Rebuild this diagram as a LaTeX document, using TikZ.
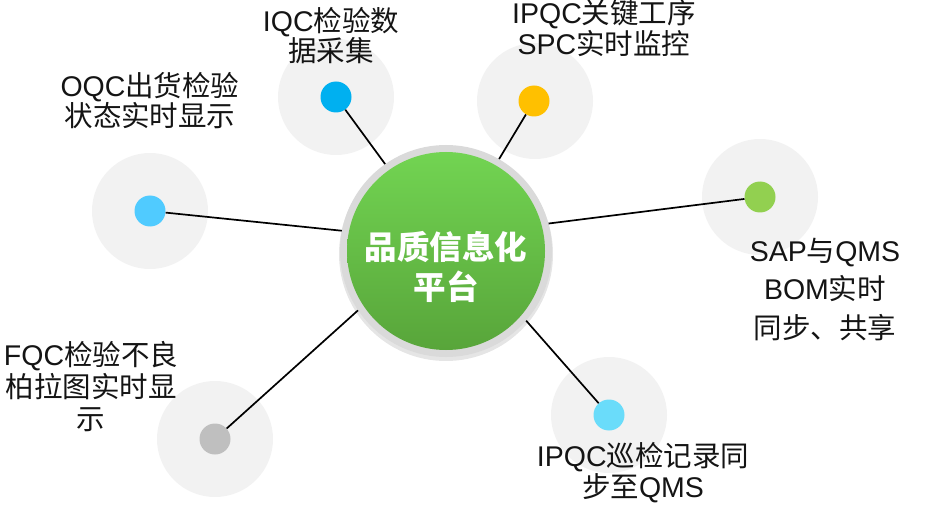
\documentclass[tikz,border=0pt]{standalone}
\usepackage{fontspec}
\setmainfont{Liberation Sans}
\newfontfamily\cjk{Noto Sans CJK SC}
\definecolor{diskgray}{HTML}{F2F2F2}
\definecolor{ringgray}{HTML}{DADADA}
\definecolor{gtop}{HTML}{72D452}
\definecolor{gbot}{HTML}{58A53A}
\definecolor{cIQC}{HTML}{00B0F0}
\definecolor{cOQC}{HTML}{50CBFF}
\definecolor{cIPQC}{HTML}{FFC000}
\definecolor{cSAP}{HTML}{92D050}
\definecolor{cPAT}{HTML}{6ADCFA}
\definecolor{cFQC}{HTML}{BFBFBF}
\definecolor{labeltext}{HTML}{141414}
\tikzset{
  disk/.style={circle, fill=diskgray, minimum size=116pt, inner sep=0pt},
  dotnode/.style={circle, fill=#1, minimum size=31pt, inner sep=0pt},
  lbl/.style={align=center, inner sep=0pt, anchor=base, text=labeltext,
    font=\fontsize{28.5}{31}\selectfont},
  link/.style={draw=black, line width=1.7pt},
}
\begin{document}
\begin{tikzpicture}[x=1pt,y=-1pt]
\useasboundingbox (0,0) rectangle (934,505);
% satellite disks
\node[disk] (dIQC) at (336,97) {};
\node[disk] (dOQC) at (150,211) {};
\node[disk] (dIPQC) at (535,101) {};
\node[disk] (dSAP) at (760,197) {};
\node[disk] (dPAT) at (609,415) {};
\node[disk] (dFQC) at (215,439) {};
% dots
\node[dotnode=cIQC] (pIQC) at (336,97) {};
\node[dotnode=cOQC] (pOQC) at (150,211) {};
\node[dotnode=cIPQC] (pIPQC) at (534,101) {};
\node[dotnode=cSAP] (pSAP) at (760,197) {};
\node[dotnode=cPAT] (pPAT) at (609,415) {};
\node[dotnode=cFQC] (pFQC) at (215,439) {};
% shadow and ring of the centre
\fill[black, opacity=0.10] (446,254) circle (107);
\node[circle, fill=ringgray, minimum size=212pt, inner sep=0pt] (c) at (446,251) {};
% connectors
\draw[link] (pIQC) -- (c.125.5);
\draw[link] (pOQC) -- (c.169.4);
\draw[link] (pIPQC) -- (c.60.6);
\draw[link] (pSAP) -- (c.15.5);
\draw[link] (pFQC) -- (c.214.7);
\draw[link] (pPAT) -- (c.319.6);
% green core
\node[circle, top color=gtop, bottom color=gbot, minimum size=198pt, inner sep=0pt] (core) at (446,251) {};
\node[align=center, inner sep=0pt, anchor=base, text=white,
  font=\fontsize{32.5}{40}\selectfont\cjk\bfseries] (title) at (446,299) {品质信息化\\平台};
% labels (anchor = baseline of the last line)
\node[lbl, font=\fontsize{28.5}{29}\selectfont] (tIQC) at (331,62) {IQC{\cjk 检验数}\\{\cjk 据采集}};
\node[lbl, font=\fontsize{28.5}{30}\selectfont] (tOQC) at (150,127) {OQC{\cjk 出货检验}\\{\cjk 状态实时显示}};
\node[lbl] (tIPQC) at (604,55) {IPQC{\cjk 关键工序}\\SPC{\cjk 实时监控}};
\node[lbl, font=\fontsize{28.5}{38.5}\selectfont] (tSAP) at (825,338) {SAP{\cjk 与}QMS\\BOM{\cjk 实时}\\{\cjk 同步、共享}};
\node[lbl, font=\fontsize{28.5}{32}\selectfont] (tFQC) at (91,429) {FQC{\cjk 检验不良}\\{\cjk 柏拉图实时显}\\{\cjk 示}};
\node[lbl] (tPAT) at (643,497) {IPQC{\cjk 巡检记录同}\\{\cjk 步至}QMS};
\end{tikzpicture}
\end{document}
